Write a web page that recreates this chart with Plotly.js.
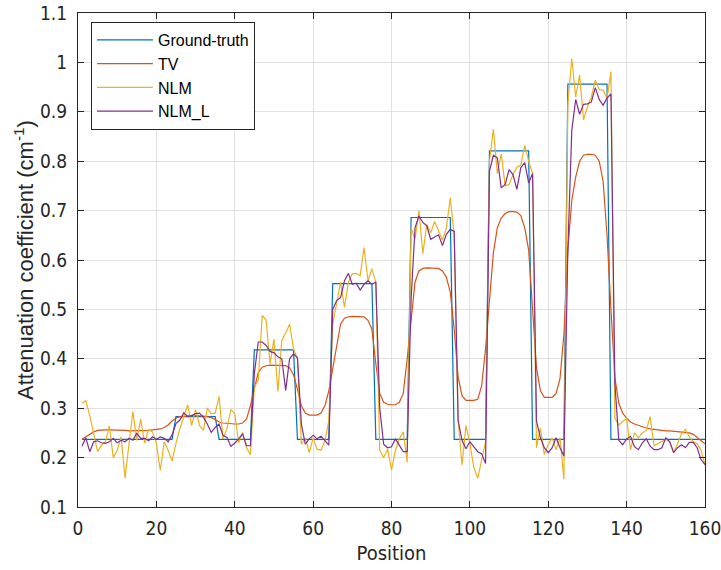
<!DOCTYPE html>
<html>
<head>
<meta charset="utf-8">
<script src="https://cdn.plot.ly/plotly-3.0.1.min.js"></script>
<style>
  html, body { margin: 0; padding: 0; background: #ffffff; }
  #chart { width: 721px; height: 570px; }
</style>
</head>
<body>
<div id="chart"></div>
<script>
// ---- Data ----
const seriesNames = ["Ground-truth", "TV", "NLM", "NLM_L"];

// Ground-truth (step profile, breakpoints at integer positions)
const gtPos = [1,24,25,35,36,44,45,55,56,64,65,75,76,84,85,95,96,104,105,115,116,124,125,135,136,160];
const gtVal = [0.237,0.237,0.283,0.283,0.237,0.237,0.418,0.418,0.237,0.237,0.552,0.552,0.237,0.237,
               0.686,0.686,0.237,0.237,0.821,0.821,0.237,0.237,0.956,0.956,0.237,0.237];

// Positions 1..160 for the reconstructed profiles
const positions = Array.from({length: 160}, (_, i) => i + 1);

const tvVal = [
 0.237,0.242,0.248,0.252,0.255,0.256,0.256,0.256,0.256,0.256,
 0.255,0.255,0.254,0.254,0.254,0.254,0.254,0.255,0.256,0.257,
 0.258,0.261,0.266,0.274,0.280,0.283,0.284,0.285,0.285,0.285,
 0.285,0.284,0.283,0.281,0.277,0.272,0.270,0.269,0.269,0.268,
 0.268,0.270,0.278,0.305,0.340,0.372,0.383,0.386,0.387,0.387,
 0.387,0.387,0.386,0.382,0.368,0.338,0.305,0.290,0.286,0.286,
 0.286,0.290,0.305,0.335,0.380,0.430,0.470,0.482,0.485,0.486,
 0.486,0.486,0.485,0.478,0.460,0.390,0.330,0.312,0.308,0.307,
 0.307,0.312,0.330,0.400,0.485,0.555,0.578,0.583,0.584,0.584,
 0.584,0.583,0.578,0.565,0.535,0.460,0.363,0.325,0.316,0.316,
 0.316,0.318,0.345,0.420,0.520,0.615,0.665,0.685,0.694,0.698,
 0.698,0.697,0.690,0.665,0.620,0.500,0.382,0.335,0.322,0.322,
 0.322,0.330,0.360,0.450,0.620,0.720,0.768,0.800,0.812,0.814,
 0.814,0.812,0.800,0.760,0.650,0.500,0.362,0.310,0.290,0.280,
 0.272,0.268,0.265,0.262,0.260,0.258,0.257,0.255,0.255,0.254,
 0.254,0.253,0.252,0.252,0.251,0.250,0.247,0.241,0.235,0.228
];

const nlmVal = [
 0.310,0.315,0.285,0.250,0.212,0.225,0.232,0.264,0.200,0.215,
 0.242,0.159,0.232,0.293,0.235,0.278,0.229,0.257,0.252,0.229,
 0.174,0.232,0.215,0.193,0.229,0.259,0.283,0.307,0.265,0.297,
 0.265,0.255,0.300,0.289,0.290,0.324,0.238,0.258,0.297,0.289,
 0.230,0.251,0.220,0.206,0.343,0.356,0.488,0.478,0.390,0.440,
 0.334,0.437,0.452,0.470,0.420,0.400,0.227,0.240,0.210,0.240,
 0.217,0.215,0.234,0.275,0.470,0.510,0.555,0.504,0.555,0.572,
 0.573,0.568,0.625,0.558,0.582,0.555,0.215,0.200,0.217,0.175,
 0.215,0.238,0.252,0.190,0.665,0.642,0.700,0.613,0.672,0.655,
 0.678,0.659,0.640,0.665,0.726,0.650,0.275,0.185,0.265,0.228,
 0.181,0.158,0.198,0.232,0.800,0.865,0.775,0.815,0.750,0.753,
 0.773,0.788,0.792,0.832,0.800,0.775,0.220,0.260,0.206,0.227,
 0.240,0.216,0.240,0.156,0.915,1.008,0.930,0.975,0.884,0.910,
 0.930,0.964,0.945,0.944,0.927,0.981,0.280,0.266,0.273,0.280,
 0.215,0.250,0.240,0.250,0.255,0.283,0.224,0.228,0.232,0.237,
 0.232,0.210,0.228,0.248,0.257,0.242,0.232,0.228,0.215,0.185
];

const nlmLVal = [
 0.223,0.240,0.212,0.232,0.234,0.230,0.229,0.232,0.239,0.230,
 0.235,0.232,0.239,0.235,0.249,0.239,0.239,0.234,0.242,0.237,
 0.242,0.239,0.232,0.246,0.269,0.276,0.291,0.283,0.285,0.289,
 0.290,0.282,0.268,0.251,0.261,0.268,0.245,0.241,0.223,0.229,
 0.238,0.248,0.224,0.224,0.370,0.434,0.434,0.427,0.415,0.412,
 0.404,0.400,0.336,0.400,0.410,0.402,0.268,0.227,0.238,0.245,
 0.238,0.243,0.235,0.225,0.500,0.518,0.524,0.558,0.573,0.551,
 0.553,0.539,0.551,0.558,0.551,0.555,0.300,0.227,0.220,0.222,
 0.238,0.225,0.212,0.212,0.520,0.665,0.689,0.676,0.669,0.642,
 0.647,0.651,0.629,0.652,0.662,0.658,0.275,0.235,0.218,0.232,
 0.222,0.212,0.208,0.188,0.780,0.812,0.807,0.746,0.753,0.783,
 0.773,0.743,0.787,0.797,0.756,0.775,0.274,0.240,0.220,0.210,
 0.220,0.240,0.220,0.203,0.620,0.862,0.925,0.895,0.915,0.916,
 0.920,0.949,0.925,0.913,0.928,0.936,0.350,0.235,0.226,0.238,
 0.243,0.222,0.216,0.230,0.238,0.223,0.216,0.216,0.220,0.240,
 0.232,0.210,0.220,0.226,0.220,0.231,0.231,0.220,0.196,0.186
];

const xTickVals = [0,20,40,60,80,100,120,140,160];
const yTickVals = [0.1,0.2,0.3,0.4,0.5,0.6,0.7,0.8,0.9,1.0,1.1];
const yTickText = ["0.1","0.2","0.3","0.4","0.5","0.6","0.7","0.8","0.9","1","1.1"];

const colors = ["#0072BD", "#D95319", "#EDB120", "#7E2F8E"];
const narrow = "'DejaVu Sans Condensed', 'Liberation Sans', Arial, sans-serif";
const regular = "'Liberation Sans', Arial, sans-serif";
const ink = "#262626";

const traces = [
  {x: gtPos, y: gtVal, name: seriesNames[0]},
  {x: positions, y: tvVal, name: seriesNames[1]},
  {x: positions, y: nlmVal, name: seriesNames[2]},
  {x: positions, y: nlmLVal, name: seriesNames[3]}
].map((t, i) => Object.assign(t, {
  type: "scatter", mode: "lines",
  line: {color: colors[i], width: 1.2},
  hoverinfo: "skip"
}));

const axisCommon = {
  showline: true, linecolor: ink, linewidth: 1,
  mirror: "ticks", ticks: "inside", ticklen: 6, tickwidth: 1, tickcolor: ink,
  showgrid: true, gridcolor: "#e1e1e1", gridwidth: 1,
  zeroline: false,
  ticklabeloverflow: "allow",
  tickfont: {family: narrow, size: 19, color: ink}
};

const layout = {
  width: 721, height: 570,
  margin: {l: 78, r: 16, t: 13, b: 63},
  paper_bgcolor: "#ffffff", plot_bgcolor: "#ffffff",
  showlegend: true,
  legend: {
    x: 0.0207, y: 0.982, xanchor: "left", yanchor: "top",
    bgcolor: "#ffffff", bordercolor: ink, borderwidth: 1,
    font: {family: regular, size: 16, color: "#000000"},
    itemwidth: 56, traceorder: "normal"
  },
  xaxis: Object.assign({}, axisCommon, {
    range: [0, 160], tickmode: "array", tickvals: xTickVals,
    ticklabelstandoff: 4,
    title: {text: "Position", font: {family: narrow, size: 20, color: ink}, standoff: 8}
  }),
  yaxis: Object.assign({}, axisCommon, {
    range: [0.1, 1.1], tickmode: "array", tickvals: yTickVals, ticktext: yTickText,
    ticklabelstandoff: 6,
    title: {text: "Attenuation coefficient (cm<sup>-1</sup>)", font: {family: regular, size: 22, color: ink}, standoff: 0}
  })
};

Plotly.newPlot("chart", traces, layout, {displayModeBar: false, staticPlot: true});
</script>
</body>
</html>
